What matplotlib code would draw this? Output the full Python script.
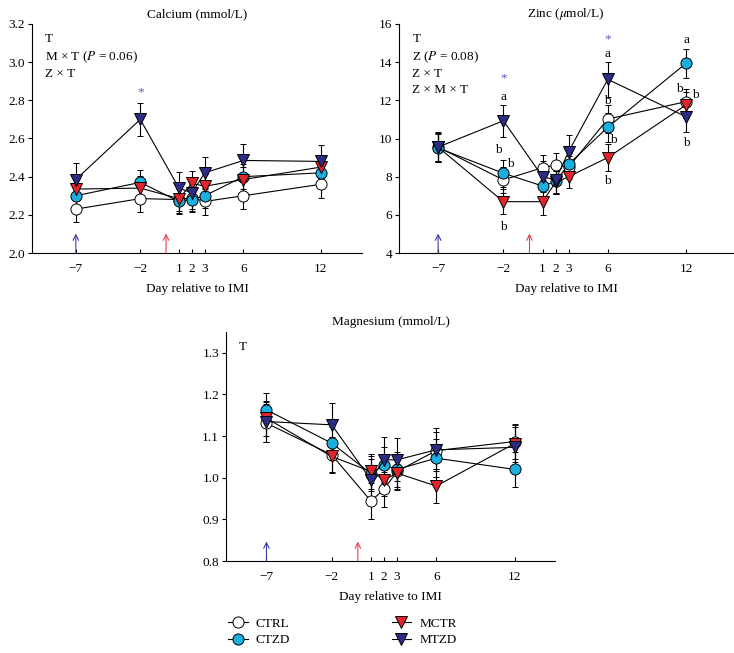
import matplotlib.pyplot as plt
from matplotlib.lines import Line2D

plt.rcParams['font.family'] = ['Liberation Serif', 'DejaVu Serif']
plt.rcParams['mathtext.fontset'] = 'stix'
plt.rcParams['font.size'] = 9.5

# Days relative to IMI
days = [-7, -2, 1, 2, 3, 6, 12]
xticks = [-7, -2, 1, 2, 3, 6, 12]
xticklabels = ['\u22127', '\u22122', '1', '2', '3', '6', '12']

# Calcium (mmol/L)
ca_ctrl = [2.23, 2.285, 2.28, 2.29, 2.27, 2.30, 2.36]
ca_ctzd = [2.30, 2.37, 2.27, 2.28, 2.30, 2.40, 2.42]
ca_mctr = [2.335, 2.34, 2.285, 2.365, 2.35, 2.385, 2.45]
ca_mtzd = [2.385, 2.70, 2.34, 2.315, 2.42, 2.485, 2.48]
ca_ctrl_se = [0.07, 0.07, 0.07, 0.07, 0.07, 0.07, 0.07]
ca_ctzd_se = [0.065, 0.065, 0.065, 0.065, 0.065, 0.065, 0.065]
ca_mctr_se = [0.065, 0.065, 0.065, 0.065, 0.065, 0.065, 0.065]
ca_mtzd_se = [0.085, 0.085, 0.085, 0.085, 0.085, 0.085, 0.085]

# Zinc (umol/L)
zn_ctrl = [9.55, 7.83, 8.47, 8.61, 8.5, 11.02, 11.93]
zn_ctzd = [9.5, 8.18, 7.51, 7.75, 8.65, 10.59, 13.94]
zn_mctr = [9.55, 6.69, 6.69, 7.7, 8.0, 9.0, 11.76]
zn_mtzd = [9.55, 10.93, 8.0, 7.83, 9.31, 13.1, 11.14]
zn_ctrl_se = [0.75, 0.7, 0.65, 0.65, 0.6, 0.75, 0.65]
zn_ctzd_se = [0.75, 0.7, 0.6, 0.6, 0.6, 0.75, 0.75]
zn_mctr_se = [0.75, 0.65, 0.7, 0.6, 0.6, 0.7, 0.7]
zn_mtzd_se = [0.8, 0.85, 0.8, 0.75, 0.85, 0.9, 0.8]

# Magnesium (mmol/L)
mg_ctrl = [1.131, 1.055, 0.944, 0.972, 1.015, 1.065, 1.087]
mg_ctzd = [1.163, 1.083, 1.01, 1.031, 1.020, 1.047, 1.02]
mg_mctr = [1.143, 1.051, 1.015, 0.995, 1.011, 0.98, 1.082]
mg_mtzd = [1.135, 1.127, 0.995, 1.043, 1.043, 1.067, 1.073]
mg_ctrl_se = [0.045, 0.042, 0.044, 0.042, 0.042, 0.045, 0.042]
mg_ctzd_se = [0.04, 0.04, 0.042, 0.042, 0.042, 0.045, 0.042]
mg_mctr_se = [0.042, 0.04, 0.042, 0.04, 0.04, 0.04, 0.045]
mg_mtzd_se = [0.048, 0.052, 0.05, 0.055, 0.052, 0.052, 0.05]

styles = {
    'CTRL': dict(marker='o', mfc='white'),
    'CTZD': dict(marker='o', mfc='#1AAFE0'),
    'MCTR': dict(marker='v', mfc='#E3242B'),
    'MTZD': dict(marker='v', mfc='#2B2C86'),
}

fig = plt.figure(figsize=(7.34, 6.53), dpi=100)
W, H = 734, 653


def add_ax(l, r, t, b):
    return fig.add_axes([l / W, 1 - b / H, (r - l) / W, (b - t) / H])


def draw_panel(ax, series, errs, title, ylim, yticks, yfmt, xlim):
    for name, y, e in zip(['CTRL', 'CTZD', 'MCTR', 'MTZD'], series, errs):
        ax.errorbar(days, y, yerr=e, color='black', lw=0.8, elinewidth=0.8,
                    capsize=2.5, capthick=0.8, ms=8, mec='black', mew=0.7,
                    **styles[name])
    ax.set_xlim(*xlim)
    ax.set_ylim(*ylim)
    ax.set_yticks(yticks)
    ax.set_yticklabels([yfmt.format(v) for v in yticks])
    ax.set_xticks(xticks)
    ax.set_xticklabels(xticklabels)
    ax.spines['top'].set_visible(False)
    ax.spines['right'].set_visible(False)
    ax.spines['left'].set_linewidth(0.8)
    ax.spines['bottom'].set_linewidth(0.8)
    ax.tick_params(axis='x', direction='in', length=3, width=0.8, pad=7)
    ax.tick_params(axis='y', direction='out', length=3, width=0.8, pad=2)
    ax.set_title(title, fontsize=9.5, pad=5)
    ax.set_xlabel('Day relative to IMI', fontsize=9.5, labelpad=6)
    # blue arrow (day -7) and red arrow (IMI)
    for xa, col in [(-7, '#3C3CA8'), (0, '#E8404A')]:
        ax.annotate('', xy=(xa, 0.085), xytext=(xa, 0.0),
                    xycoords=('data', 'axes fraction'),
                    textcoords=('data', 'axes fraction'),
                    arrowprops=dict(arrowstyle='->', color=col, lw=0.8,
                                    mutation_scale=10, shrinkA=0, shrinkB=0))


# Calcium
ax1 = add_ax(32, 362, 24, 253)
draw_panel(ax1, [ca_ctrl, ca_ctzd, ca_mctr, ca_mtzd],
           [ca_ctrl_se, ca_ctzd_se, ca_mctr_se, ca_mtzd_se],
           'Calcium (mmol/L)', (2.0, 3.2), [2.0, 2.2, 2.4, 2.6, 2.8, 3.0, 3.2],
           '{:.1f}', (-10.4, 15.2))
ax1.text(0.04, 0.96, 'T\nM \u00d7 T ($P$ = 0.06)\nZ \u00d7 T', transform=ax1.transAxes,
         va='top', ha='left', fontsize=9.5, linespacing=1.4)
ax1.text(-2, 2.84, '*', color='#5A5AB8', ha='center', va='center', fontsize=9.5)

# Zinc
ax2 = add_ax(399, 733, 24, 253)
draw_panel(ax2, [zn_ctrl, zn_ctzd, zn_mctr, zn_mtzd],
           [zn_ctrl_se, zn_ctzd_se, zn_mctr_se, zn_mtzd_se],
           'Zinc ($\\mu$mol/L)', (4, 16), [4, 6, 8, 10, 12, 14, 16],
           '{:d}', (-10.0, 15.6))
ax2.text(0.04, 0.96, 'T\nZ ($P$ = 0.08)\nZ \u00d7 T\nZ \u00d7 M \u00d7 T',
         transform=ax2.transAxes, va='top', ha='left', fontsize=9.5,
         linespacing=1.4)
zn_stars = [(-2, 13.15), (6, 15.2)]
zn_letters = [(-2, 12.2, 'a'), (-2.35, 9.4, 'b'), (-1.45, 8.65, 'b'), (-2, 5.35, 'b'),
              (6, 14.45, 'a'), (6, 11.95, 'b'), (6.4, 9.9, 'b'), (6, 7.75, 'b'),
              (12, 15.15, 'a'), (11.5, 12.6, 'b'), (12.7, 12.28, 'b'), (12, 9.75, 'b')]
for xs, ys in zn_stars:
    ax2.text(xs, ys, '*', color='#5A5AB8', ha='center', va='center', fontsize=9.5)
for xs, ys, s in zn_letters:
    ax2.text(xs, ys, s, ha='center', va='center', fontsize=9.5)

# Magnesium
ax3 = add_ax(226, 555, 332, 561)
draw_panel(ax3, [mg_ctrl, mg_ctzd, mg_mctr, mg_mtzd],
           [mg_ctrl_se, mg_ctzd_se, mg_mctr_se, mg_mtzd_se],
           'Magnesium (mmol/L)', (0.8, 1.35), [0.8, 0.9, 1.0, 1.1, 1.2, 1.3],
           '{:.1f}', (-10.1, 15.1))
ax3.text(0.04, 0.96, 'T', transform=ax3.transAxes, va='top', ha='left',
         fontsize=9.5)

# Legend
handles = [Line2D([], [], color='black', lw=0.8, ms=8, mec='black', mew=0.7,
                  **styles[n]) for n in ['CTRL', 'CTZD', 'MCTR', 'MTZD']]
fig.legend(handles, ['CTRL', 'CTZD', 'MCTR', 'MTZD'], ncol=2, frameon=False,
           loc='upper left', bbox_to_anchor=(216 / W, 1 - 606 / H),
           handlelength=1.5, handletextpad=0.6, columnspacing=7.7,
           labelspacing=0.3, fontsize=9.5)

plt.savefig('out.png', dpi=100)
